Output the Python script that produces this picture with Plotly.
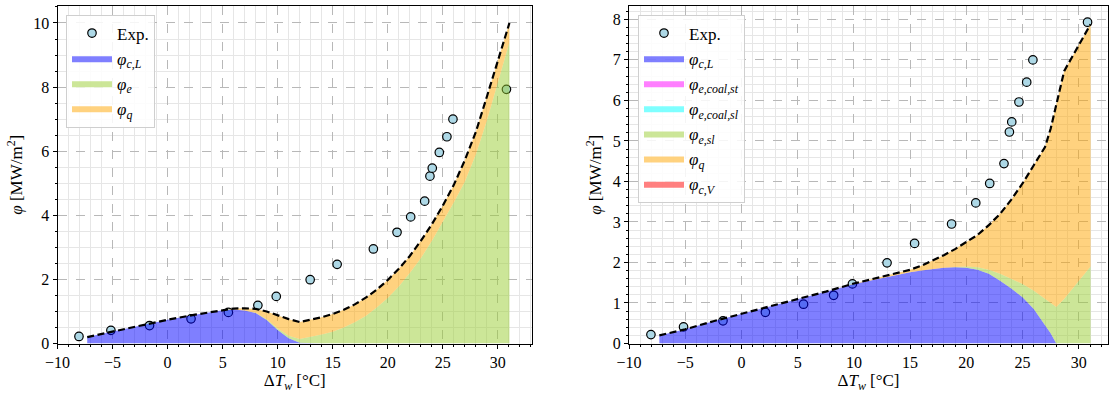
import numpy as np
import plotly.graph_objects as go

# ---------------- experimental data (shared by both panels) ----------------
exp_dT = [-8.05, -5.15, -1.64, 2.13, 5.52, 8.2, 9.87, 12.95, 15.4, 18.69,
          20.84, 22.08, 23.35, 23.83, 24.04, 24.68, 25.37, 25.92, 30.78]
exp_phi = [0.22, 0.41, 0.56, 0.77, 0.97, 1.19, 1.47, 1.99, 2.47, 2.95,
           3.47, 3.95, 4.44, 5.22, 5.47, 5.96, 6.45, 7.0, 7.93]

# ---------------- left panel: model components ----------------
xL = [-7.3, -5, -2.5, 0, 2.5, 5, 6, 7, 8, 9, 10, 11, 12, 13, 14, 15, 16, 17, 18,
      19, 20, 21, 22, 23, 24, 25, 26, 27, 28, 29, 30, 31.05]
L_phi_cL = [0.2, 0.37, 0.56, 0.74, 0.9, 1.04, 1.06, 1.03, 0.95, 0.73, 0.42, 0.16,
            0.02, 0, 0, 0, 0, 0, 0, 0, 0, 0, 0, 0, 0, 0, 0, 0, 0, 0, 0, 0]
L_phi_e = [0, 0, 0, 0, 0, 0, 0, 0, 0.01, 0.03, 0.05, 0.08, 0.12, 0.2, 0.28, 0.37,
           0.5, 0.66, 0.86, 1.12, 1.42, 1.78, 2.2, 2.66, 3.2, 3.8, 4.4, 5.05,
           5.9, 6.95, 8.15, 9.4]
L_phi_q = [0, 0, 0, 0, 0, 0.01, 0.03, 0.07, 0.12, 0.24, 0.41, 0.52, 0.53, 0.54,
           0.54, 0.55, 0.55, 0.56, 0.57, 0.56, 0.56, 0.55, 0.53, 0.54, 0.52, 0.5,
           0.55, 0.67, 0.7, 0.75, 0.7, 0.6]

# ---------------- right panel: model components ----------------
xR = [-7.3, -5, -2.5, 0, 2.5, 5, 7.5, 10, 12.5, 15, 16, 17, 18, 19, 20, 21, 22,
      23, 24, 25, 26, 27, 27.5, 28, 28.7, 29, 30, 31.05]
R_phi_cL = [0.2, 0.35, 0.55, 0.73, 0.92, 1.1, 1.28, 1.47, 1.62, 1.76, 1.8, 1.84,
            1.87, 1.88, 1.87, 1.82, 1.72, 1.55, 1.36, 1.14, 0.85, 0.45, 0.25, 0,
            0, 0, 0, 0]
R_phi_e_coal_st = [0] * 28
R_phi_e_coal_sl = [0] * 28
R_phi_e_sl = [0, 0, 0, 0, 0, 0, 0, 0, 0, 0, 0, 0, 0, 0.01, 0.03, 0.06, 0.1, 0.17,
              0.24, 0.33, 0.45, 0.65, 0.75, 0.9, 1.1, 1.2, 1.55, 1.9]
R_phi_q = [0, 0, 0, 0, 0, 0, 0, 0.01, 0.03, 0.06, 0.12, 0.2, 0.31, 0.44, 0.6, 0.8,
           1.1, 1.48, 1.95, 2.48, 3.1, 3.75, 4.3, 5.0, 5.62, 5.67, 5.8, 5.98]
R_phi_cV = [0] * 28

L_total = np.sum([L_phi_cL, L_phi_e, L_phi_q], axis=0)
R_total = np.sum([R_phi_cL, R_phi_e_coal_st, R_phi_e_coal_sl, R_phi_e_sl,
                  R_phi_q, R_phi_cV], axis=0)

FONT = "Liberation Serif, Times New Roman, serif"
fig = go.Figure()


def add_panel(xa, ya, xo, yo, leg, x, comps, total):
    # markers on the base subplot, model fills on an overlaying subplot (drawn above)
    fig.add_trace(go.Scatter(
        x=exp_dT, y=exp_phi, mode="markers", name="Exp.",
        marker=dict(color="#add8e6", size=8.5, line=dict(color="black", width=1.2)),
        xaxis=xa, yaxis=ya, legend=leg))
    for name, vals, col in comps:
        fig.add_trace(go.Scatter(
            x=x, y=vals, mode="lines", name=name, stackgroup=leg,
            line=dict(width=0), fillcolor=col, xaxis=xo, yaxis=yo, legend=leg))
    fig.add_trace(go.Scatter(
        x=x, y=total, mode="lines", showlegend=False,
        line=dict(color="black", width=2.2, dash="7px,3.5px"),
        xaxis=xo, yaxis=yo, legend=leg))


def phi(sub):
    return "<i>φ</i><sub><i>%s</i></sub>" % sub


add_panel("x", "y", "x3", "y3", "legend", xL, [
    (phi("c,L"), L_phi_cL, "rgba(0,0,255,0.5)"),
    (phi("e"), L_phi_e, "rgba(154,205,50,0.5)"),
    (phi("q"), L_phi_q, "rgba(255,165,0,0.5)"),
], L_total)

add_panel("x2", "y2", "x4", "y4", "legend2", xR, [
    (phi("c,L"), R_phi_cL, "rgba(0,0,255,0.5)"),
    (phi("e,coal,st"), R_phi_e_coal_st, "rgba(255,0,255,0.5)"),
    (phi("e,coal,sl"), R_phi_e_coal_sl, "rgba(0,255,255,0.5)"),
    (phi("e,sl"), R_phi_e_sl, "rgba(154,205,50,0.5)"),
    (phi("q"), R_phi_q, "rgba(255,165,0,0.5)"),
    (phi("c,V"), R_phi_cV, "rgba(255,0,0,0.5)"),
], R_total)

W, H = 1110, 396
ydom = [1 - 343.5 / H, 1 - 6 / H]
domL = [57.5 / W, 532 / W]
domR = [629 / W, 1108 / W]
rxL, rxR = [-10, 33.1], [-10, 32.6]
ryL, ryR = [0, 10.53], [0, 8.33]


def xaxis_cfg(dom, rng, anchor):
    return dict(domain=dom, range=rng, anchor=anchor, tick0=-10, dtick=5,
                showgrid=True, automargin=False,
                gridcolor="#b8b8b8", griddash="dash", gridwidth=0.8,
                zeroline=False, showline=True, mirror=True, linecolor="black",
                linewidth=1, ticks="outside", ticklen=4, tickcolor="black",
                tickfont=dict(size=16, color="black", family=FONT),
                title=dict(text="Δ<i>T</i><sub><i>w</i></sub> [°C]",
                           font=dict(size=17, color="black", family=FONT),
                           standoff=4),
                minor=dict(dtick=1, tick0=-10, showgrid=True, gridcolor="#e6e6e6",
                           griddash="solid", gridwidth=0.8, ticks="outside",
                           ticklen=2, tickcolor="black"))


def yaxis_cfg(rng, dt, mdt, anchor):
    return dict(domain=ydom, range=rng, dtick=dt, tick0=0, anchor=anchor,
                showgrid=True, automargin=False,
                gridcolor="#b8b8b8", griddash="dash",
                gridwidth=0.8, zeroline=False, showline=True, mirror=True,
                linecolor="black", linewidth=1, ticks="outside", ticklen=4,
                tickcolor="black",
                tickfont=dict(size=16, color="black", family=FONT),
                title=dict(text="<i>φ</i> [MW/m<sup>2</sup>]",
                           font=dict(size=17, color="black", family=FONT),
                           standoff=6),
                minor=dict(dtick=mdt, tick0=0, showgrid=True, gridcolor="#e6e6e6",
                           griddash="solid", gridwidth=0.8, ticks="outside",
                           ticklen=2, tickcolor="black"))


def overlay_x(base, rng, anchor, dom):
    return dict(overlaying=base, range=rng, anchor=anchor, domain=dom,
                visible=False, showgrid=False, zeroline=False)


def overlay_y(base, rng, anchor):
    return dict(overlaying=base, range=rng, anchor=anchor, domain=ydom,
                visible=False, showgrid=False, zeroline=False)


leg_common = dict(bgcolor="rgba(255,255,255,0.85)", bordercolor="#cfcfcf",
                  borderwidth=1, font=dict(size=17, color="black", family=FONT),
                  xanchor="left", yanchor="top", itemwidth=40,
                  traceorder="normal", tracegroupgap=0)

fig.update_layout(
    width=W, height=H, margin=dict(l=0, r=0, t=0, b=0),
    paper_bgcolor="white", plot_bgcolor="white",
    font=dict(family=FONT, color="black"),
    xaxis=xaxis_cfg(domL, rxL, "y"),
    yaxis=yaxis_cfg(ryL, 2, 0.5, "x"),
    xaxis2=xaxis_cfg(domR, rxR, "y2"),
    yaxis2=yaxis_cfg(ryR, 1, 0.2, "x2"),
    xaxis3=overlay_x("x", rxL, "y3", domL),
    yaxis3=overlay_y("y", ryL, "x3"),
    xaxis4=overlay_x("x2", rxR, "y4", domR),
    yaxis4=overlay_y("y2", ryR, "x4"),
    legend=dict(x=66 / W, y=1 - 14.5 / H, **leg_common),
    legend2=dict(x=638 / W, y=1 - 14.5 / H, **leg_common),
    showlegend=True,
)

fig.write_html("out.html",
               config={"displayModeBar": False},
               post_script="document.body.style.margin='0';"
                           "document.body.style.overflow='hidden';")
